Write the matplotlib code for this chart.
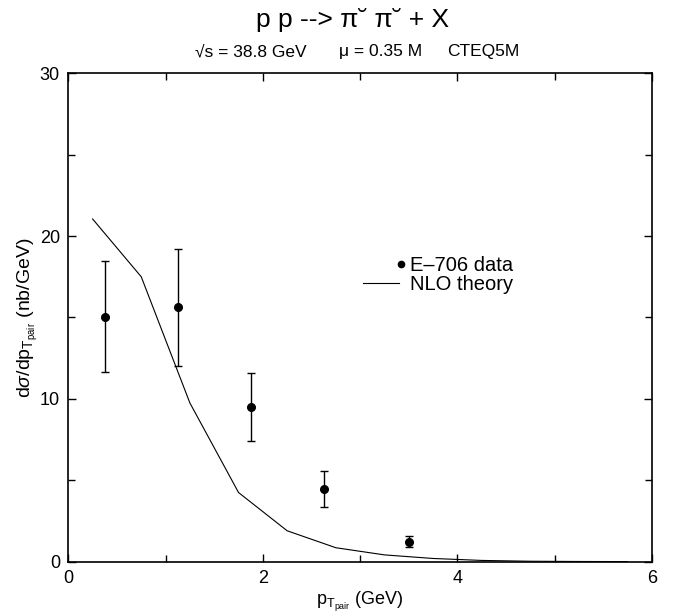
import matplotlib
matplotlib.use('Agg')
import matplotlib.pyplot as plt
from matplotlib.ticker import MultipleLocator
from matplotlib.legend_handler import HandlerLine2D
from matplotlib.lines import Line2D

plt.rcParams['font.family'] = ['Liberation Sans', 'DejaVu Sans']
plt.rcParams['mathtext.fontset'] = 'custom'
plt.rcParams['mathtext.rm'] = 'Liberation Sans'
plt.rcParams['mathtext.it'] = 'Liberation Sans:italic'

# E-706 data
pt_data = [0.375, 1.125, 1.875, 2.625, 3.5]
sig_data = [15.05, 15.65, 9.5, 4.47, 1.21]
err_lo = [11.65, 12.05, 7.4, 3.38, 0.88]
err_hi = [18.45, 19.2, 11.6, 5.58, 1.55]

# NLO theory
pt_nlo = [0.25, 0.75, 1.25, 1.75, 2.25, 2.75, 3.25, 3.75, 4.25, 4.75, 5.25, 5.75]
sig_nlo = [21.05, 17.5, 9.75, 4.25, 1.9, 0.86, 0.42, 0.2, 0.08, 0.03, 0.015, 0.008]

yerr = [[s - lo for s, lo in zip(sig_data, err_lo)],
        [hi - s for s, hi in zip(sig_data, err_hi)]]


class RightMarker(HandlerLine2D):
    # put the bullet at the right end of the handle, as in the original
    def get_xdata(self, legend, xdescent, ydescent, width, height, fontsize):
        p = -xdescent + width + 1
        return [p, p], [p]


fig = plt.figure(figsize=(6.74, 6.16), dpi=100)
ax = fig.add_axes([0.1013, 0.0881, 0.8661, 0.793])

ax.plot(pt_nlo, sig_nlo, color='black', lw=0.8)
ax.errorbar(pt_data, sig_data, yerr=yerr, fmt='o', color='black', ms=5.5,
            elinewidth=1.0, capsize=3, capthick=1.0)

ax.set_xlim(0, 6)
ax.set_ylim(0, 30)
ax.xaxis.set_major_locator(MultipleLocator(2))
ax.xaxis.set_minor_locator(MultipleLocator(1))
ax.yaxis.set_major_locator(MultipleLocator(10))
ax.yaxis.set_minor_locator(MultipleLocator(5))
ax.tick_params(which='both', direction='in', top=True, right=True, labelsize=13, width=1.0)
ax.tick_params(which='major', length=6, pad=6)
ax.tick_params(which='minor', length=5)
for sp in ax.spines.values():
    sp.set_linewidth(1.2)

ax.set_xlabel(r'p$_{\mathrm{T_{pair}}}$ (GeV)', fontsize=13, labelpad=2)
ax.set_ylabel(r'd$\sigma$/dp$_{\mathrm{T_{pair}}}$ (nb/GeV)', fontsize=14, labelpad=0)

h_data = Line2D([], [], marker='o', ms=4.5, color='black', ls='none')
h_nlo = Line2D([], [], color='black', lw=0.8)
ax.legend([h_data, h_nlo], ['E\u2013706 data', 'NLO theory'], frameon=False,
          loc='upper left', bbox_to_anchor=(0.505, 0.626), fontsize=14.5,
          borderpad=0, borderaxespad=0,
          handlelength=1.8, handletextpad=0.55, labelspacing=0.0,
          handler_map={h_data: RightMarker(numpoints=1)})

fig.text(0.523, 0.9675, 'p p --> \u03c0\u02d8 \u03c0\u02d8 + X', ha='center', va='center', fontsize=19)
fig.text(0.372, 0.9156, '\u221as = 38.8 GeV', ha='center', va='center', fontsize=12.5)
fig.text(0.564, 0.9156, '\u03bc = 0.35 M', ha='center', va='center', fontsize=12.5)
fig.text(0.717, 0.9156, 'CTEQ5M', ha='center', va='center', fontsize=12.5)

fig.savefig('out.png', dpi=100)
